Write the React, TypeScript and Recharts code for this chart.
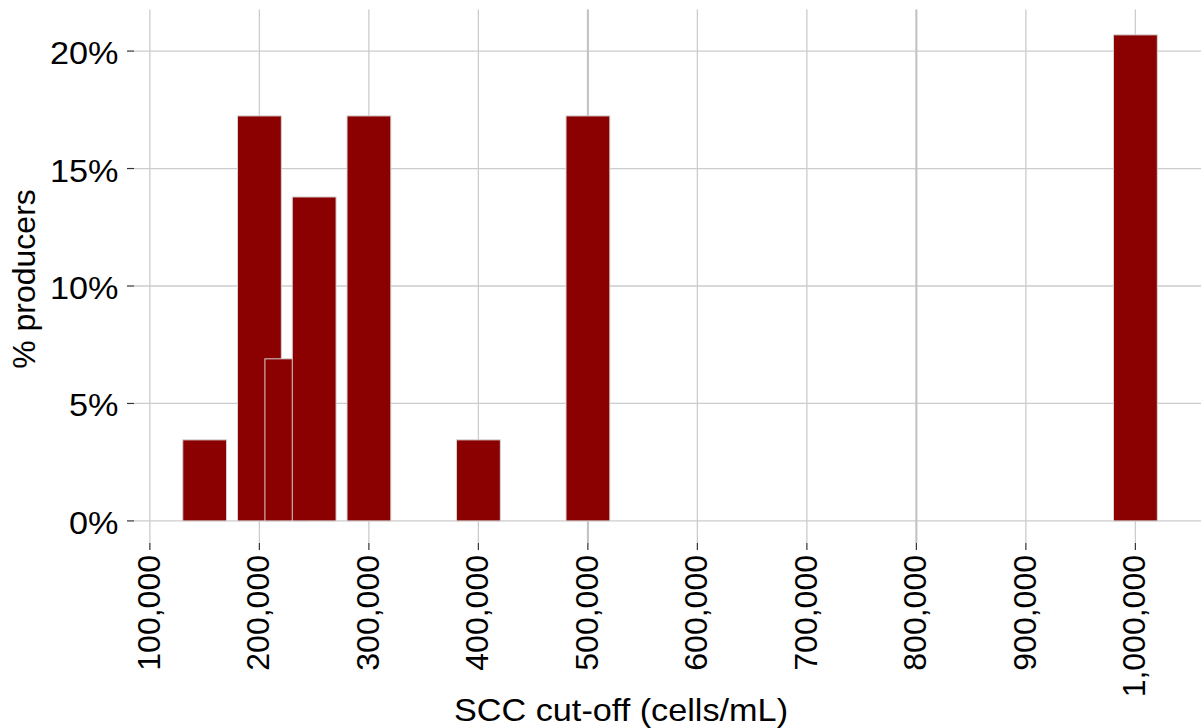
import React from "react";
import { BarChart, Bar, XAxis, YAxis, CartesianGrid } from "recharts";

// ---- data ----
const BIN_CENTERS = [150000, 200000, 225000, 250000, 300000, 400000, 500000, 1000000];
const PCT_PRODUCERS = [3.45, 17.24, 6.9, 13.79, 17.24, 3.45, 17.24, 20.69];
const X_TICKS = [100000, 200000, 300000, 400000, 500000, 600000, 700000, 800000, 900000, 1000000];
const Y_TICKS = [0, 5, 10, 15, 20];
const EMPHASIS_GRID = [500000, 800000];
const BIN_WIDTH = 40000;

const data = BIN_CENTERS.map((scc, i) => ({ scc, pct: PCT_PRODUCERS[i] }));

// ---- layout ----
const CHART_W = 1206;
const CHART_H = 728;
const Y_AXIS_W = 134;
const X_AXIS_H = 185;
const MARGIN_TOP = 9.5;
const X_DOMAIN: [number, number] = [85500, 1064500];
const Y_DOMAIN: [number, number] = [-0.94, 21.77];
const PLOT_W = CHART_W - Y_AXIS_W;
const BAR_PX = (BIN_WIDTH / (X_DOMAIN[1] - X_DOMAIN[0])) * PLOT_W;

const FONT = "'Liberation Sans', Arial, Helvetica, sans-serif";
const FS = 32;
const SX = 1.07;

const XTick = (props: any) => {
  const { x, y, payload } = props;
  const label = Number(payload.value).toLocaleString("en-US");
  return (
    <text
      x={0}
      y={0}
      transform={`translate(${x + 10},${y}) rotate(-90)`}
      textAnchor="end"
      fontSize={FS}
      fontFamily={FONT}
      fill="#000"
    >
      {label}
    </text>
  );
};

const YTick = (props: any) => {
  const { x, y, payload } = props;
  return (
    <text
      x={0}
      y={0}
      transform={`translate(${x},${y + 13}) scale(${SX},1)`}
      textAnchor="end"
      fontSize={FS}
      fontFamily={FONT}
      fill="#000"
    >
      {`${payload.value}%`}
    </text>
  );
};

const XTitle = () => (
  <text
    x={0}
    y={0}
    transform={`translate(621,720.5) scale(${SX},1)`}
    textAnchor="middle"
    fontSize={FS}
    fontFamily={FONT}
    fill="#000"
  >
    SCC cut-off (cells/mL)
  </text>
);

const YTitle = () => (
  <text
    x={0}
    y={0}
    transform={`translate(35,279) rotate(-90)`}
    textAnchor="middle"
    fontSize={FS}
    fontFamily={FONT}
    fill="#000"
  >
    % producers
  </text>
);

const BinShape = (props: any) => {
  const { x, y, width, height } = props;
  const cx = x + width / 2;
  return (
    <rect
      x={cx - BAR_PX / 2}
      y={y}
      width={BAR_PX}
      height={height}
      fill="#8B0000"
      stroke="#d4d4d4"
      strokeWidth={1}
    />
  );
};

export default function App() {
  return (
    <div
      style={{
        position: "absolute",
        left: 0,
        top: 0,
        width: 1201,
        height: 728,
        overflow: "hidden",
        background: "#fff",
      }}
    >
      <BarChart
        width={CHART_W}
        height={CHART_H}
        data={data}
        margin={{ top: MARGIN_TOP, right: 0, bottom: 0, left: 0 }}
      >
        <CartesianGrid
          stroke="#cccccc"
          strokeWidth={1.3}
          horizontalValues={Y_TICKS}
          verticalValues={X_TICKS}
        />
        <CartesianGrid
          stroke="#c2c2c2"
          strokeWidth={2}
          horizontal={false}
          verticalValues={EMPHASIS_GRID}
        />
        <XAxis
          dataKey="scc"
          type="number"
          domain={X_DOMAIN}
          allowDataOverflow
          ticks={X_TICKS}
          interval={0}
          height={X_AXIS_H}
          axisLine={false}
          tickLine={{ stroke: "#333", strokeWidth: 1.2 }}
          tickSize={7}
          tickMargin={5}
          tick={<XTick />}
          label={<XTitle />}
        />
        <YAxis
          type="number"
          domain={Y_DOMAIN}
          allowDataOverflow
          ticks={Y_TICKS}
          interval={0}
          width={Y_AXIS_W}
          axisLine={false}
          tickLine={{ stroke: "#333", strokeWidth: 1.2 }}
          tickSize={7}
          tickMargin={8.5}
          tick={<YTick />}
          label={<YTitle />}
        />
        <Bar dataKey="pct" isAnimationActive={false} shape={<BinShape />} />
      </BarChart>
    </div>
  );
}
